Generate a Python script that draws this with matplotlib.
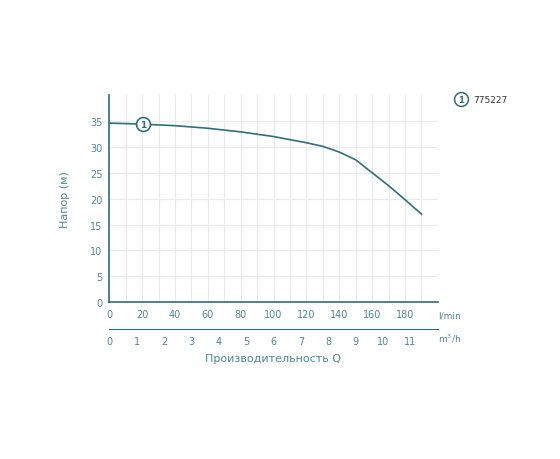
import matplotlib.pyplot as plt
from matplotlib.lines import Line2D

flow_lmin = [0, 20, 40, 60, 80, 100, 120, 130, 140, 150, 160, 170, 180, 190]
head_m = [34.6, 34.4, 34.1, 33.6, 32.9, 32.0, 30.8, 30.1, 29.0, 27.5, 25.0, 22.5, 19.8, 17.0]
x_ticks = [0, 20, 40, 60, 80, 100, 120, 140, 160, 180]
y_ticks = [0, 5, 10, 15, 20, 25, 30, 35]
m3h_ticks = list(range(0, 12))
model = "775227"

teal = "#2f6f7c"
txt = "#4f8595"
grid = "#e8eaec"

fig = plt.figure(figsize=(5.6, 4.6), dpi=100)
ax = fig.add_axes([0.195, 0.341, 0.587, 0.45])
ax.plot(flow_lmin, head_m, color=teal, lw=1.2)
ax.set_xlim(0, 200)
ax.set_ylim(0, 40)
ax.set_xticks(range(0, 200, 10), minor=True)
ax.set_xticks(x_ticks)
ax.set_yticks(y_ticks)
ax.grid(True, which="both", axis="x", color=grid, lw=0.8)
ax.grid(True, axis="y", color=grid, lw=0.8)
for s in ["top", "right"]:
    ax.spines[s].set_visible(False)
for s in ["left", "bottom"]:
    ax.spines[s].set_color(teal)
    ax.spines[s].set_linewidth(1.2)
ax.tick_params(length=0, colors=txt, labelsize=7, pad=5)
ax.tick_params(axis="x", which="minor", length=0)
ax.text(1.0, -0.04, "l/min", transform=ax.transAxes, color=txt, fontsize=6.5, va="top")
ax.set_ylabel("Напор (м)", color=txt, fontsize=8, labelpad=14)

# circle marker on curve
ax.plot([20.5], [34.4], "o", ms=10, mfc="white", mec=teal, mew=1.2)
ax.text(20.5, 34.4, "1", color=teal, fontsize=6.5, ha="center", va="center", fontweight="bold")

# second axis m3/h
ax2 = fig.add_axes([0.195, 0.282, 0.587, 0.001])
ax2.set_xlim(0, 200 / 16.667)
ax2.set_xticks(m3h_ticks)
ax2.set_yticks([])
for s in ["top", "right", "left"]:
    ax2.spines[s].set_visible(False)
ax2.spines["bottom"].set_color(teal)
ax2.tick_params(length=0, colors=txt, labelsize=7, pad=5)
ax2.patch.set_alpha(0)
ax2.text(1.0, -6, "m$^3$/h", transform=ax2.transAxes, color=txt, fontsize=6.5, va="top")

fig.text(0.487, 0.213, "Производительность Q", color=txt, fontsize=8, ha="center")

# legend
lx, ly = 0.823, 0.782
fig.add_artist(Line2D([lx], [ly], transform=fig.transFigure, marker="o", ms=10,
                      mfc="white", mec=teal, mew=1.1, ls="none"))
fig.text(lx, ly, "1", color=teal, fontsize=6, ha="center", va="center", fontweight="bold")
fig.text(lx + 0.022, ly, model, color="#333333", fontsize=6.5, va="center")

fig.savefig("out.png", dpi=100)
